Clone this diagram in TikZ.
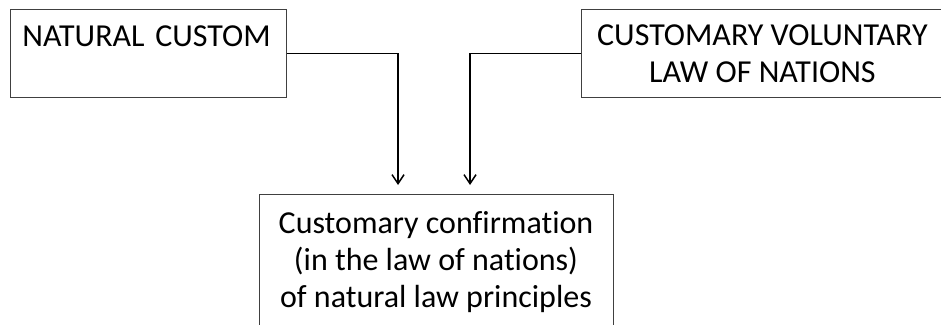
\documentclass[tikz,border=0pt]{standalone}
\usepackage{fontspec}
\setmainfont{Carlito}[Ligatures=NoCommon]
\usetikzlibrary{arrows.meta}

\begin{document}
\begin{tikzpicture}[x=1pt,y=-1pt,
    box/.style={draw=black!75, line width=0.9pt, inner sep=0pt,
      font=\fontsize{32}{37}\selectfont},
    link/.style={line width=1.5pt, -{Straight Barb[length=9pt,width=12pt]}}]
    \useasboundingbox (0,0) rectangle (941,324);
    \clip (0,0) rectangle (941,324);

    % obere Kaesten
    \node[box, anchor=north west, minimum width=276, minimum height=88,
      text width=252, align=left, text depth=35] (natural) at (10,9) {NATURAL CUSTOM};
    \node[box, anchor=north west, minimum width=362, minimum height=88,
      align=center] (voluntary) at (581,9) {CUSTOMARY VOLUNTARY\\LAW OF NATIONS};

    % unterer Kasten (unten abgeschnitten)
    \node[box, anchor=north, minimum width=354, inner ysep=17,
      align=center] (confirm) at (436,194)
      {Customary confirmation\\(in the law of nations)\\of natural law principles};

    % Pfeile
    \coordinate (inL) at (398,185);
    \coordinate (inR) at (470,185);
    \draw[link] (natural.east) -| (inL);
    \draw[link] (voluntary.west) -| (inR);
  \end{tikzpicture}
\end{document}
